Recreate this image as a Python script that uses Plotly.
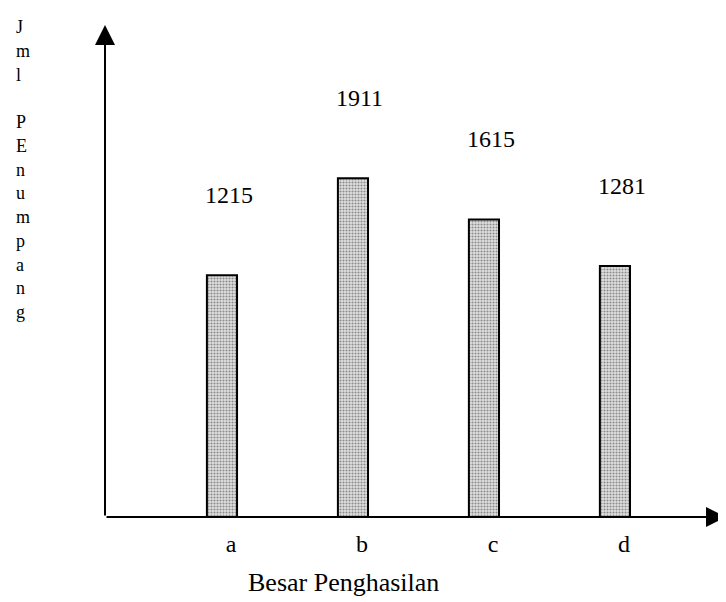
import plotly.graph_objects as go

# data
kategori = ['a', 'b', 'c', 'd']
jumlah = [1215, 1911, 1615, 1281]
judul_y = 'Jml PEnumpang'
judul_x = 'Besar Penghasilan'

Y_FLOOR = -520   # the scanned chart does not start its bars at zero
FONT = "'Liberation Serif', 'Times New Roman', serif"

fig = go.Figure([
    go.Bar(
        x=kategori,
        y=[v - Y_FLOOR for v in jumlah],
        base=Y_FLOOR,
        width=0.23,
        marker=dict(
            color='#e0e0e0',
            line=dict(color='black', width=2),
            pattern=dict(shape='.', fgcolor='#333333', size=3, solidity=0.4),
        ),
        hoverinfo='none',
    )
])

# value labels above the bars
for k, v in zip(kategori, jumlah):
    fig.add_annotation(
        x=k, y=v, text=str(v), showarrow=False,
        xshift=7, yshift=80,
        font=dict(size=24, color='black', family=FONT),
    )

# axes drawn as arrows
fig.add_annotation(
    x=0, y=1, xref='paper', yref='paper',
    ax=0, ay=492, axref='pixel', ayref='pixel',
    text='', showarrow=True, arrowhead=2, arrowsize=2, arrowwidth=2, arrowcolor='black',
)
fig.add_annotation(
    x=1.0098, y=0, xref='paper', yref='paper',
    ax=-621, ay=0, axref='pixel', ayref='pixel',
    text='', showarrow=True, arrowhead=2, arrowsize=2, arrowwidth=2, arrowcolor='black',
)

# stacked y title, one letter per line
for i, ch in enumerate(judul_y):
    if ch == ' ':
        continue
    fig.add_annotation(
        x=0, y=1, xref='paper', yref='paper',
        xshift=-90, yshift=9 - i * 23.75,
        text=ch, showarrow=False, borderpad=0,
        font=dict(size=18, color='black', family=FONT),
    )

fig.add_annotation(
    x=0.387, y=0, xref='paper', yref='paper',
    yshift=-82, text=judul_x, showarrow=False,
    font=dict(size=26, color='black', family=FONT),
)

fig.update_layout(
    width=726,
    height=602,
    plot_bgcolor='white',
    paper_bgcolor='white',
    showlegend=False,
    font=dict(family=FONT, color='black', size=24),
    margin=dict(l=97, r=14, t=17, b=93),
    xaxis=dict(
        range=[-0.893, 3.802],
        showline=False, showgrid=False, zeroline=False,
        ticks='', ticklabelshift=9, ticklabelstandoff=10,
        tickfont=dict(size=24, family=FONT, color='black'),
    ),
    yaxis=dict(
        range=[Y_FLOOR, 3010],
        showline=False, showgrid=False, zeroline=False,
        showticklabels=False, ticks='',
    ),
    dragmode=False,
)

fig.write_html("out.html")
